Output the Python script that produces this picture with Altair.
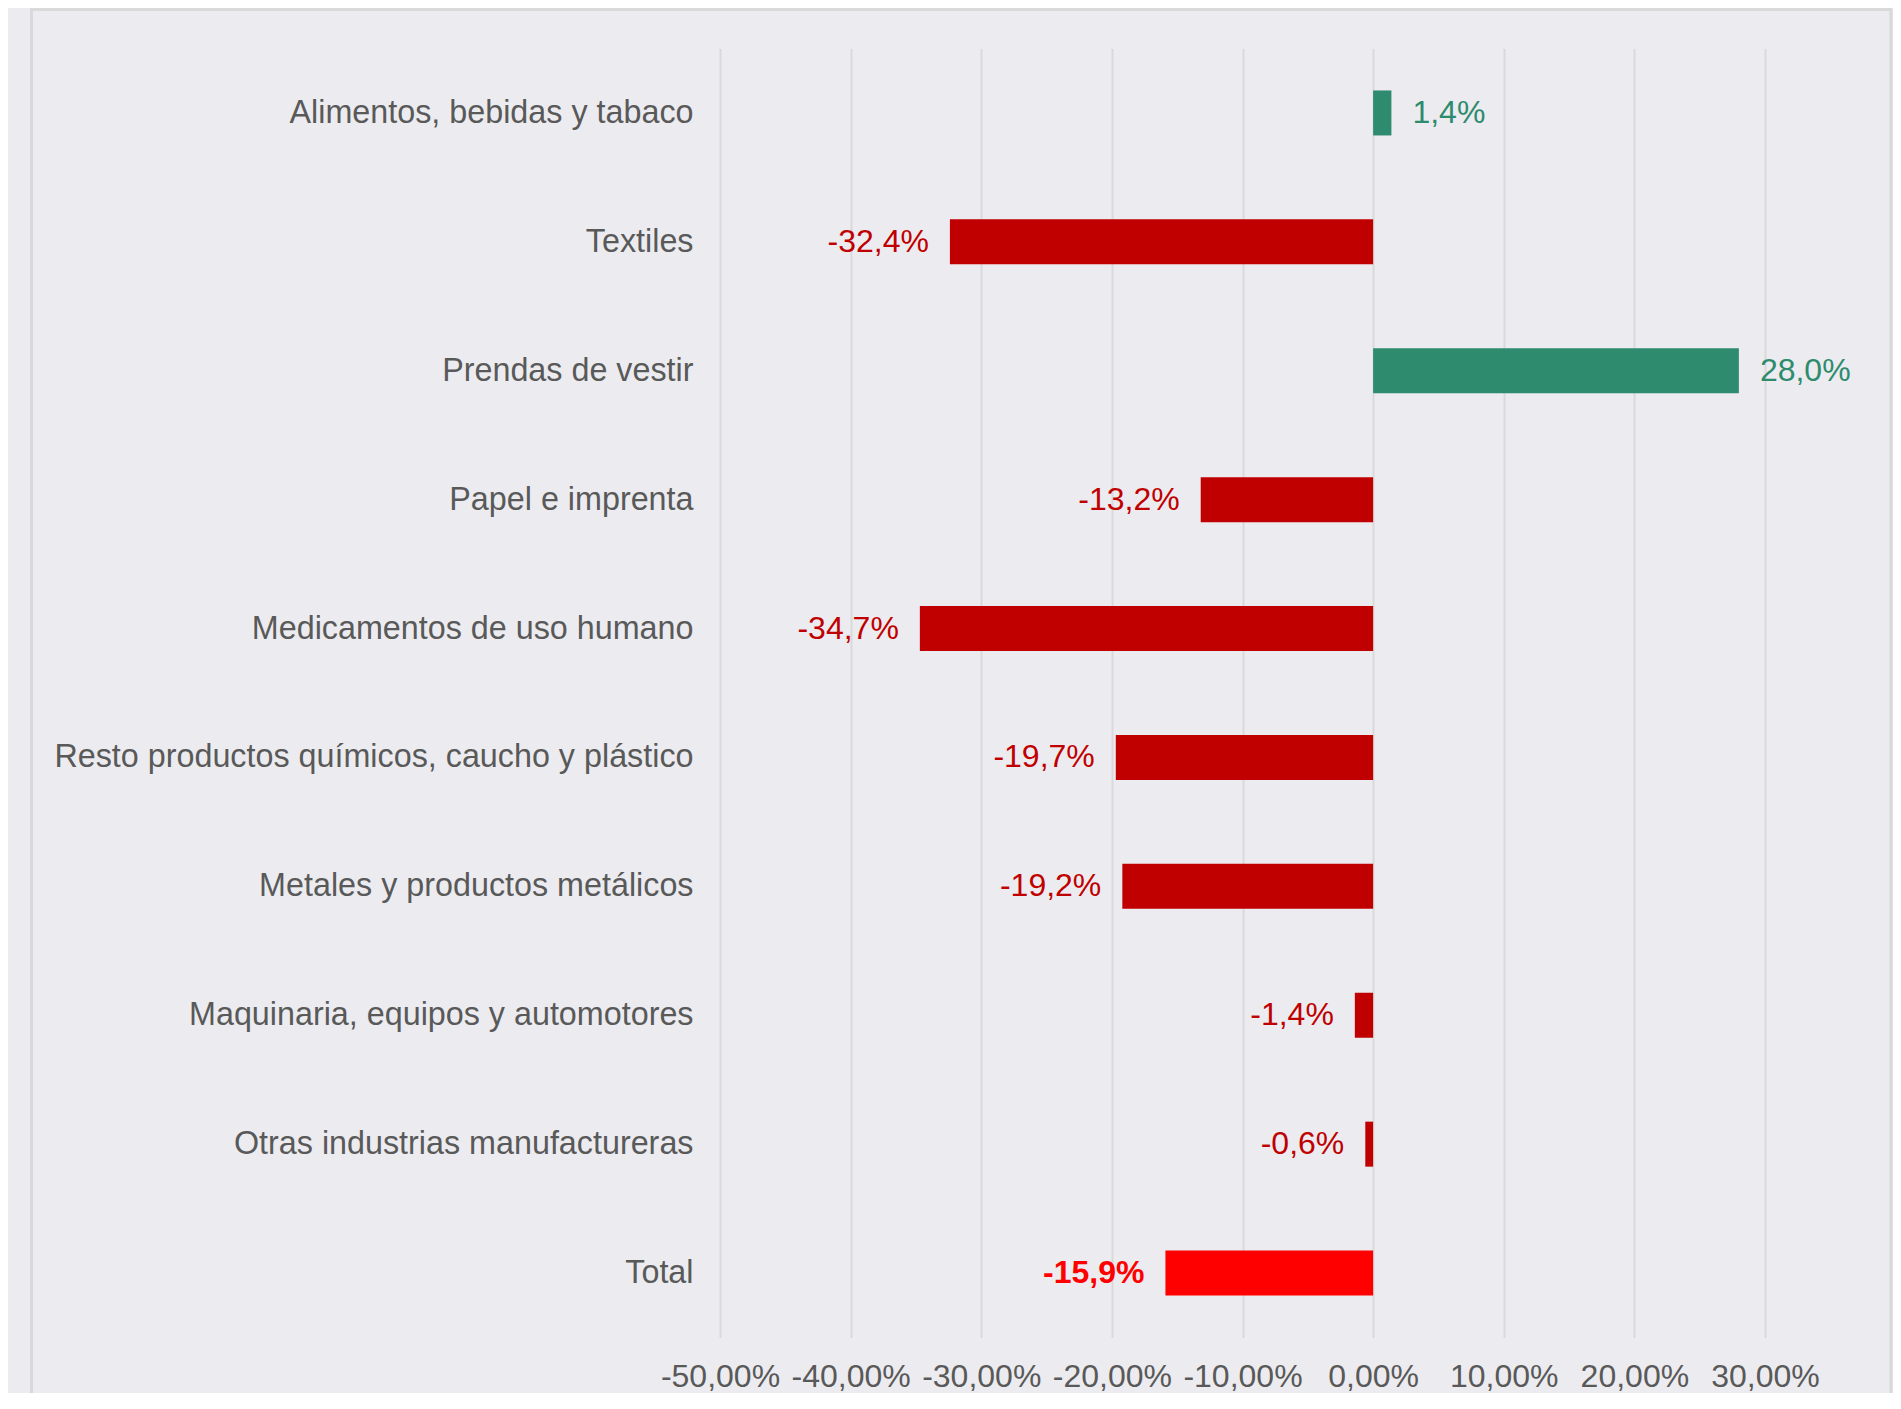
import altair as alt
import pandas as pd

categorias = [
    "Alimentos, bebidas y tabaco",
    "Textiles",
    "Prendas de vestir",
    "Papel e imprenta",
    "Medicamentos de uso humano",
    "Resto productos químicos, caucho y plástico",
    "Metales y productos metálicos",
    "Maquinaria, equipos y automotores",
    "Otras industrias manufactureras",
    "Total",
]
variacion = [1.4, -32.4, 28.0, -13.2, -34.7, -19.7, -19.2, -1.4, -0.6, -15.9]
ticks_x = [-50, -40, -30, -20, -10, 0, 10, 20, 30]

FONT = "Liberation Sans"
GRIS = "#595959"
FONDO = "#ECECF0"
GRID = "#D9D9D9"

df = pd.DataFrame({"categoria": categorias, "valor": variacion})
df["tipo"] = [
    "total" if c == "Total" else ("pos" if v >= 0 else "neg")
    for c, v in zip(categorias, variacion)
]
df["etiqueta"] = [f"{v:.1f}".replace(".", ",") + "%" for v in variacion]

color_scale = alt.Scale(domain=["pos", "neg", "total"], range=["#2E8B6E", "#C00000", "#FF0000"])

y_enc = alt.Y(
    "categoria:N",
    sort=categorias,
    scale=alt.Scale(paddingInner=0, paddingOuter=0),
    axis=alt.Axis(
        title=None, labelFontSize=32.3, labelColor=GRIS, labelFont=FONT,
        ticks=False, domain=False, labelPadding=27, labelLimit=0, grid=False,
    ),
)
x_enc = alt.X(
    "valor:Q",
    scale=alt.Scale(domain=[-50, 30], nice=False, zero=False),
    axis=alt.Axis(
        title=None, values=ticks_x,
        labelExpr="(datum.value < 0 ? '-' : '') + replace(format(abs(datum.value), '.2f'), '.', ',') + '%'",
        grid=True, gridColor=GRID, gridWidth=2, domain=False, ticks=False,
        labelFontSize=32, labelFont=FONT, labelColor=GRIS, labelPadding=24,
        labelFlush=False, labelOverlap=False,
    ),
)
col_enc = alt.Color("tipo:N", scale=color_scale, legend=None)

base = alt.Chart(df).encode(y=y_enc, x=x_enc)

bars = base.mark_bar(size=45).encode(color=col_enc)

pos_text = base.transform_filter("datum.valor >= 0").mark_text(
    align="left", baseline="middle", dx=21, fontSize=32, font=FONT
).encode(text="etiqueta:N", color=col_enc)

neg_text = base.transform_filter("datum.valor < 0 && datum.tipo != 'total'").mark_text(
    align="right", baseline="middle", dx=-21, fontSize=32, font=FONT
).encode(text="etiqueta:N", color=col_enc)

tot_text = base.transform_filter("datum.tipo == 'total'").mark_text(
    align="right", baseline="middle", dx=-21, fontSize=32, font=FONT, fontWeight="bold"
).encode(text="etiqueta:N", color=col_enc)

borde = alt.Chart(pd.DataFrame({"k": [0]})).mark_rect(
    fillOpacity=0, stroke=GRID, strokeWidth=3
).encode(
    x=alt.value(-688.5), x2=alt.value(1171), y=alt.value(-39), y2=alt.value(1420)
)

chart = alt.layer(borde, bars, pos_text, neg_text, tot_text).properties(
    width=1045,
    height=1289,
    background=FONDO,
    padding={"left": 712, "top": 40.5, "right": 128, "bottom": 55},
    autosize=alt.AutoSizeParams(type="none"),
).configure_view(strokeWidth=0)

chart.save("out.html", embed_options={"renderer": "svg", "actions": False})
